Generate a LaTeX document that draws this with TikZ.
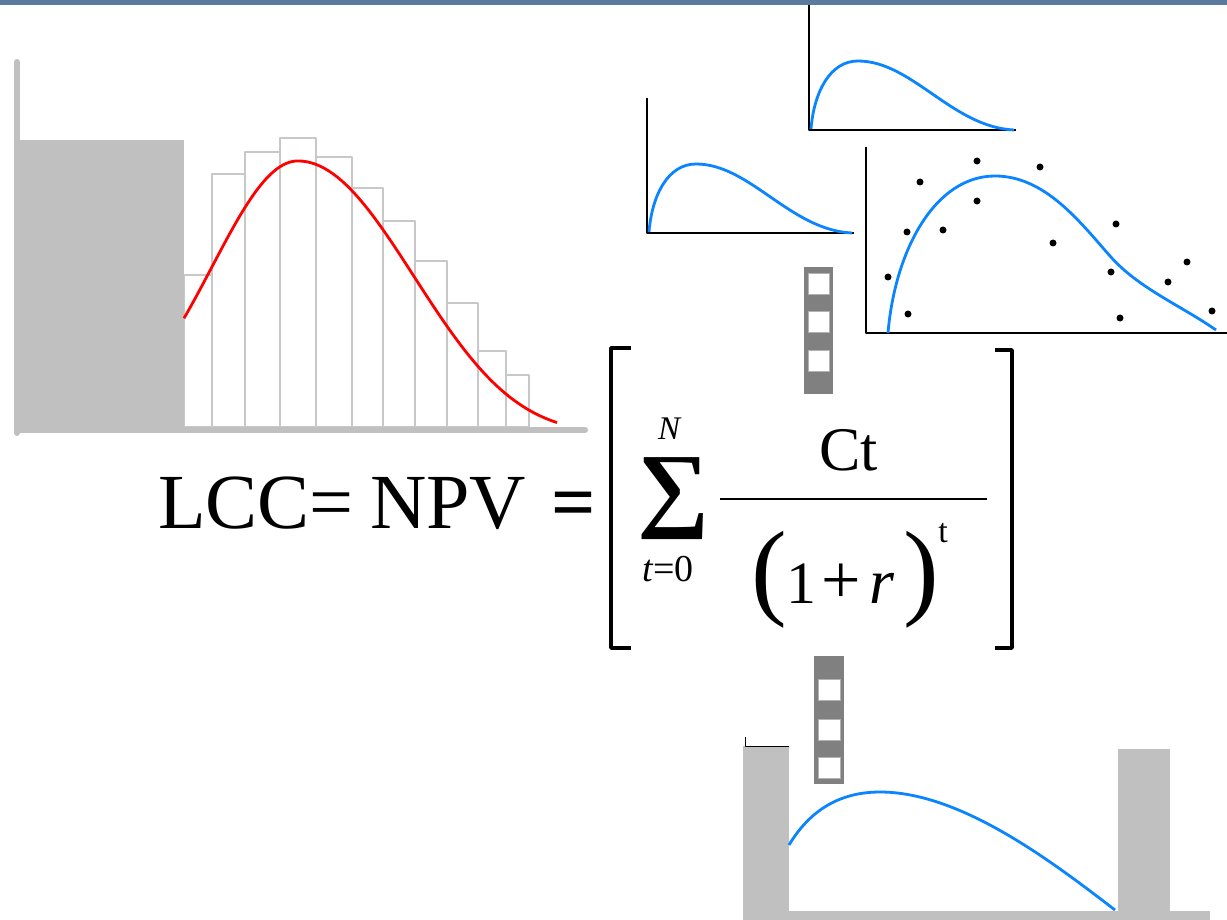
\documentclass[tikz,border=0pt]{standalone}
\usepackage{fontspec}
\setmainfont{Liberation Serif}
\usetikzlibrary{calc}
\definecolor{barblue}{HTML}{5A7AA0}
\definecolor{lgrey}{HTML}{C0C0C0}
\definecolor{edgegrey}{HTML}{C8C8C8}
\definecolor{curveblue}{HTML}{0A84FF}
\definecolor{stripgrey}{HTML}{808080}
\newcommand{\fs}[1]{\fontsize{#1}{#1}\selectfont}

\begin{document}
\begin{tikzpicture}[x=1pt, y=-1pt, line join=round,
  eqtext/.style={inner sep=0pt, anchor=base west},
  histbar/.style={draw=edgegrey, fill=white, line width=1.4pt},
  greyaxis/.style={draw=lgrey, line width=6pt, line cap=round},
  fitcurve/.style={draw=curveblue, line width=2.8pt},
  thinaxis/.style={draw=black, line width=1.4pt},
  filmbox/.style={fill=white, draw=gray!60, line width=0.6pt},
  bracket/.style={line width=3.5pt}]
\useasboundingbox (0,0) rectangle (1227,920);
\fill[white] (0,0) rectangle (1227,920);
% histogram with fitted density
\foreach \xa/\xb/\h in {184/212/275,212/245/174,245/280/152,280/316/138,316/352/157,352/383/188,383/415/221,415/447/261,447/478/303,478/506/351,506/529/375}
  {\draw[histbar] (\xa,427) rectangle (\xb,\h);}
\fill[lgrey] (17,140) rectangle (184,430);
\draw[greyaxis] (17,62) -- (17,433);
\draw[greyaxis] (17,430) -- (585,430);
\draw[red, line width=2.8pt] plot[domain=184:298, samples=40] (\x, {430-269*exp(-0.5*((\x-298)/86)^2)})
  -- plot[domain=298:557, samples=60] (\x, {430-269*exp(-0.5*((\x-298)/112)^2)*(1-0.6*((\x-298)/259)^4)});
% two small density plots
\foreach \dx/\dy in {0/0,162/-103}
{\begin{scope}[shift={(\dx,\dy)}]
  \draw[thinaxis] (647,98) -- (647,233) -- (854,233);
  \draw[fitcurve] (649,232) .. controls (652,195) and (668,164) .. (696,164)
    .. controls (750,164) and (790,230) .. (852,233);
\end{scope}}
% scatter with fitted curve
\draw[thinaxis] (866,147) -- (866,333) -- (1227,333);
\draw[fitcurve] (888,333) .. controls (895,250) and (935,176) .. (995,176)
  .. controls (1045,176) and (1080,222) .. (1110,256) .. controls (1138,288) and (1180,305) .. (1216,330);
\foreach \p in {(977,161),(1040,167),(920,182),(977,201),(907,232),(943,230),(1116,224),(1053,243),(888,277),(1111,272),(1187,262),(1168,282),(908,314),(1120,318),(1212,311)}
  {\fill \p circle (3.5);}
% film strips
\fill[stripgrey] (804,267) rectangle (833,394);
\foreach \y in {273,311,350} {\draw[filmbox] (808,\y) rectangle (829,\y+21);}
\fill[stripgrey] (814,656) rectangle (844,784);
\foreach \y in {679,719,757} {\draw[filmbox] (818,\y) rectangle (840,\y+21);}
% bottom chart
\fill[lgrey] (743,746) rectangle (789,920);
\fill[lgrey] (1118,749) rectangle (1170,920);
\fill[lgrey] (743,911) rectangle (1210,920);
\draw[black, line width=1pt] (745,737) -- (745,746) -- (789,746);
\draw[fitcurve] (789,845) .. controls (810,810) and (840,792) .. (880,792)
  .. controls (960,792) and (1050,860) .. (1115,910);
% equation
\node[eqtext, font=\fs{78}] (lcc) at (158,528) {LCC=};
\node[eqtext, font=\fs{78}] (npv) at (370,528) {NPV};
\node[eqtext, font=\fs{78}\bfseries] (eqsign) at (551,528) {=};
\node[inner sep=0pt] (sum) at (673,499) {\resizebox*{72pt}{82pt}{\fs{80}\bfseries ∑}};
\node[inner sep=0pt, font=\fs{33}\itshape] (supN) at (669,429) {N};
\node[inner sep=0pt, font=\fs{38}] (subt) at (668,569) {\textit{t}=0};
\node[eqtext, font=\fs{62}] (num) at (819,470) {Ct};
\coordinate (fl) at (720,499);
\coordinate (fr) at (987,499);
\draw[line width=2pt] (fl) -- (fr);
\node[inner sep=0pt, anchor=base, font=\fs{107}] (lpar) at (769,605) {(};
\node[eqtext, font=\fs{60}] (one) at (786,603) {1};
\node[inner sep=0pt, font=\fs{70}] (plus) at (841,584) {+};
\node[eqtext, font=\fs{64}\itshape] (rvar) at (869,603) {r};
\node[inner sep=0pt, anchor=base, font=\fs{107}] (rpar) at (921,605) {)};
\node[inner sep=0pt, anchor=base, font=\fs{34}] (expt) at (943,542) {t};
\draw[bracket] (631,348) -- (611,348) -- (611,648) -- (631,648);
\draw[bracket] (995,350) -- (1012,350) -- (1012,648) -- (995,648);
% title bar edge
\fill[barblue] (0,0) rectangle (1227,5);
\end{tikzpicture}
\end{document}
